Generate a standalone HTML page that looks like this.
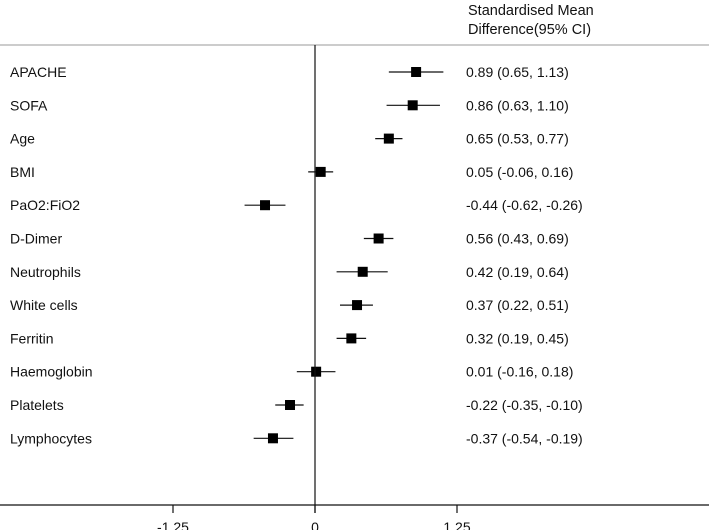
<!DOCTYPE html>
<html><head><meta charset="utf-8"><style>
body{margin:0;background:#fff;}
svg{display:block;font-family:"Liberation Sans",sans-serif;}
</style></head><body>
<svg id="chart" width="709" height="530">
<text x="468" y="15" font-size="14.5" fill="#111">Standardised Mean</text>
<text x="468" y="34" font-size="14.5" fill="#111">Difference(95% CI)</text>
<line x1="0" y1="45" x2="709" y2="45" stroke="#ccc" stroke-width="2"/>
<line x1="0" y1="505" x2="709" y2="505" stroke="#111" stroke-width="1.2"/>
<g id="rows"></g><g id="ticks"></g>
</svg>
<script>
const labels=["APACHE","SOFA","Age","BMI","PaO2:FiO2","D-Dimer","Neutrophils","White cells","Ferritin","Haemoglobin","Platelets","Lymphocytes"];
const est=[0.89,0.86,0.65,0.05,-0.44,0.56,0.42,0.37,0.32,0.01,-0.22,-0.37];
const lo=[0.65,0.63,0.53,-0.06,-0.62,0.43,0.19,0.22,0.19,-0.16,-0.35,-0.54];
const hi=[1.13,1.10,0.77,0.16,-0.26,0.69,0.64,0.51,0.45,0.18,-0.10,-0.19];
const tickVals=[-1.25,0,1.25];
const tickLabels=["-1.25","0","1.25"];
const NS="http://www.w3.org/2000/svg";
const xs=v=>315+v*113.6;
const ys=i=>72+i*33.3;
function mk(tag,at,parent){const e=document.createElementNS(NS,tag);for(const k in at)e.setAttribute(k,at[k]);parent.appendChild(e);return e;}
const svg=document.getElementById('chart');
const zl=mk('line',{x1:xs(0),y1:45,x2:xs(0),y2:513,stroke:'#111','stroke-width':1.2},svg);


const rows=document.getElementById('rows');
labels.forEach((l,i)=>{
 const y=ys(i);
 const g=mk('g',{},rows);
 
 
 const t=mk('text',{x:10,y:y+5,'font-size':14,fill:'#111'},g);t.textContent=l;
 
 
 const ci=mk('line',{x1:xs(lo[i]),y1:y,x2:xs(hi[i]),y2:y,stroke:'#111','stroke-width':1.2},g);
 
 
 const sq=mk('rect',{x:xs(est[i])-5,y:y-5,width:10,height:10,fill:'#000'},g);
 
 
 const v=mk('text',{x:466,y:y+5,'font-size':14,fill:'#111'},g);
 v.textContent=est[i].toFixed(2)+" ("+lo[i].toFixed(2)+", "+hi[i].toFixed(2)+")";
 
 
});
const tg=document.getElementById('ticks');
tickVals.forEach((tv,i)=>{
 const tk=mk('line',{x1:xs(tv),y1:505,x2:xs(tv),y2:513,stroke:'#111','stroke-width':1.2},tg);
 
 
 const tl=mk('text',{x:xs(tv),y:532,'font-size':14,fill:'#111','text-anchor':'middle'},tg);
 tl.textContent=tickLabels[i];
 
 
});
</script>
</body></html>
